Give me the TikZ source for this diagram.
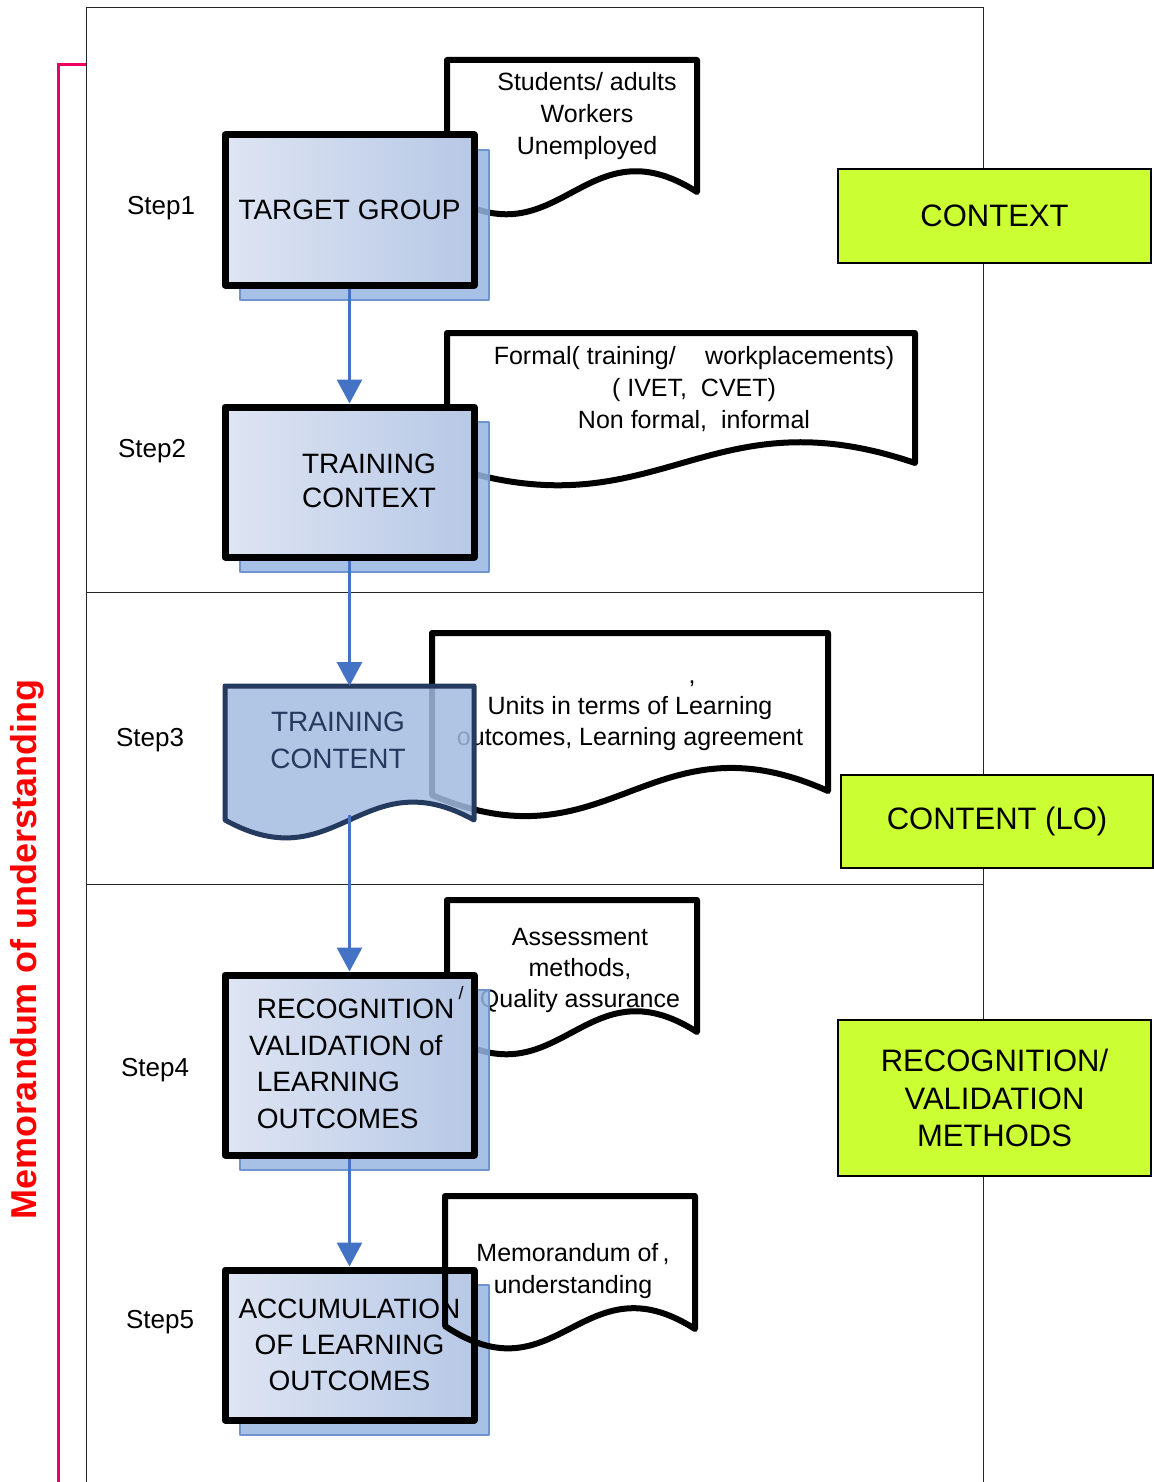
\documentclass[tikz,border=0pt]{standalone}
\usepackage{fontspec}
\setmainfont{Liberation Sans}
\usetikzlibrary{arrows.meta,positioning}
\definecolor{boxlight}{RGB}{222,229,243}
\definecolor{boxdark}{RGB}{183,200,230}
\definecolor{shadowblue}{RGB}{150,181,226}
\definecolor{shadowedge}{RGB}{112,148,208}
\definecolor{arrowblue}{RGB}{68,114,196}
\definecolor{contentfill}{RGB}{163,188,224}
\definecolor{contentnavy}{RGB}{36,58,94}
\definecolor{limegreen}{RGB}{204,255,51}
\definecolor{mouline}{RGB}{236,0,96}

\begin{document}
\begin{tikzpicture}[x=0.5pt, y=-0.5pt,
    frame/.style={draw=black!85, line width=0.5pt},
    stepbox/.style={draw=black, line width=3.5pt, line join=round,
        left color=boxlight, right color=boxdark,
        minimum width=124.5pt, inner sep=0pt,
        preaction={fill=shadowblue, draw=shadowedge, line width=1pt, fill opacity=0.85,
            transform canvas={xshift=7.5pt, yshift=-7.5pt}},
        font=\fontsize{14}{18}\selectfont, align=center},
    doc/.style={draw=black, line width=3pt, line join=round},
    doctext/.style={font=\fontsize{12.5}{16}\selectfont, align=center},
    steplabel/.style={font=\fontsize{13}{16}\selectfont},
    greenbox/.style={draw=black, line width=0.6pt, fill=limegreen, inner sep=0pt,
        font=\fontsize{15.5}{18.75}\selectfont, align=center},
    flow/.style={draw=arrowblue, line width=1.5pt, -{Triangle[width=12.5pt,length=12pt]}}]
    \useasboundingbox (0,0) rectangle (1153,1482);

    % frame and separators
    \draw[frame] (86,1482) -- (86,8) -- (983,8) -- (983,1482);
    \draw[frame] (86,592) -- (983,592);
    \draw[frame] (86,884) -- (983,884);

    % memorandum bracket
    \draw[mouline, line width=1.5pt] (86,65) -- (58,65) -- (58,1482);
    \node[rotate=90, text=red, font=\bfseries\fontsize{18}{20}\selectfont] (mou) at (27,949) {Memorandum of understanding};

    % green labels on the right
    \node[greenbox, minimum width=156.5pt, minimum height=47pt] (ctx) at (994.5,216) {CONTEXT};
    \node[greenbox, minimum width=156pt, minimum height=46.5pt] (lo) at (997,821.5) {CONTENT (LO)};
    \node[greenbox, minimum width=156.5pt, minimum height=78pt] (meth) at (994.5,1098) {RECOGNITION/\\VALIDATION\\METHODS};

    % step labels
    \node[steplabel] (s1) at (161,208) {Step1};
    \node[steplabel] (s2) at (152,451) {Step2};
    \node[steplabel] (s3) at (150,740) {Step3};
    \node[steplabel] (s4) at (155,1070) {Step4};
    \node[steplabel] (s5) at (160,1322) {Step5};

    % documents
    \draw[doc, fill=white] (447,195) -- (447,60) -- (697,60) -- (697,192) .. controls (584.5,120) and (559.5,264) .. (447,195) -- cycle;
    \node[doctext] (d1text) at (587,116) {Students/ adults\\Workers\\Unemployed};
    \draw[doc, fill=white] (447,466) -- (447,333) -- (915,333) -- (915,463) .. controls (704.4,391) and (657.6,535) .. (447,466) -- cycle;
    \node[doctext] (d2text) at (694,389) {Formal( training/\hspace{0.9em} workplacements)\\( IVET,\ \ CVET)\\Non formal,\ \ informal};
    \draw[doc, fill=white] (432,795) -- (432,633) -- (828,633) -- (828,791) .. controls (649.8,711) and (610.2,871) .. (432,795) -- cycle;
    \node[doctext, font=\fontsize{12.5}{15.5}\selectfont] (d3text) at (630,716) {\hspace*{62pt},\\Units in terms of Learning\\outcomes, Learning agreement};
    \draw[doc, fill=white] (447,1035) -- (447,900) -- (697,900) -- (697,1032) .. controls (584.5,960) and (559.5,1104) .. (447,1035) -- cycle;
    \node[doctext, font=\fontsize{12.5}{15.5}\selectfont] (d4text) at (580,970) {Assessment\\methods,\\Quality assurance};

    % steps
    \node[stepbox, minimum height=75pt] (target) at (349.5,210) {TARGET GROUP};
    \node[stepbox, minimum height=75pt] (context) at (349.5,482) {};
    \node[font=\fontsize{14}{17}\selectfont, align=center] (contexttext) at (369,481) {TRAINING\\CONTEXT};
    \draw[draw=contentnavy, line width=2.5pt, line join=round, fill=contentfill, fill opacity=0.85]
        (225,686) -- (474,686) -- (474,820) .. controls (362,758) and (337,882) .. (225,820) -- cycle;
    \node[font=\fontsize{14}{18.5}\selectfont, align=center, text=contentnavy] (content) at (338,740) {TRAINING\\CONTENT};
    \coordinate (contenttop) at (349.5,686);
    \coordinate (contentbot) at (349.5,815);
    \node[stepbox, minimum height=90pt] (recog) at (349.5,1065) {};
    \node[font=\fontsize{14}{18.3}\selectfont, align=left, anchor=west] (recogtext) at (242,1064)
        {\ RECOGNITION\\VALIDATION of\\\ LEARNING\\\ OUTCOMES};
    \node[font=\fontsize{9}{10}\selectfont, inner sep=0pt] (slash) at (461,993) {/};
    \node[stepbox, minimum height=75pt] (accum) at (349.5,1345) {ACCUMULATION\\OF LEARNING\\OUTCOMES};

    % last document, outline only
    \draw[doc] (445,1326) -- (445,1196) -- (695,1196) -- (695,1329) .. controls (582.5,1257) and (557.5,1401) .. (445,1326) -- cycle;
    \node[doctext] (d5text) at (573,1271) {Memorandum of\,,\\understanding};

    % flow
    \draw[flow] (target.south) -- (context.north);
    \draw[flow] (context.south) -- (contenttop);
    \draw[flow] (contentbot) -- (recog.north);
    \draw[flow] (recog.south) -- (accum.north);
\end{tikzpicture}
\end{document}
